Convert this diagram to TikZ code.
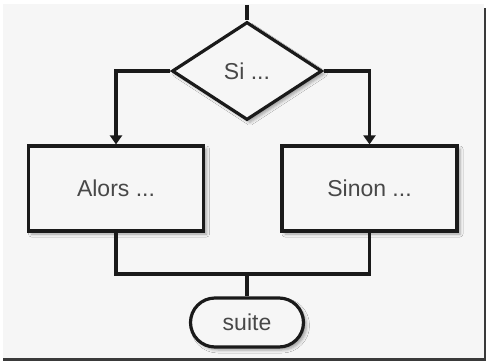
\documentclass[tikz,border=0pt]{standalone}
\usepackage{fontspec}
\setmainfont{Liberation Sans}
\usetikzlibrary{shapes.geometric,shapes.misc,shadows.blur,arrows.meta}
\definecolor{panel}{HTML}{F6F6F6}
\definecolor{ink}{HTML}{1A1A1A}
\definecolor{txt}{HTML}{484848}
\definecolor{frame}{HTML}{3A3A3A}
\tikzset{
  shade/.style={blur shadow={shadow xshift=3pt,shadow yshift=-3pt,shadow blur radius=3pt,shadow opacity=35}},
  flow/.style={draw=ink,line width=3.2pt,fill=panel,text=txt,font=\fontsize{23}{25}\selectfont,inner sep=0pt,shade},
  decision/.style={flow,diamond,minimum width=150pt,minimum height=98pt},
  stepbox/.style={flow,rectangle,minimum width=175pt,minimum height=85pt},
  term/.style={flow,rounded rectangle,minimum width=113pt,minimum height=49pt},
  wire/.style={draw=ink,line width=3.2pt},
  arr/.style={wire,-{Triangle[width=12pt,length=9pt]}}
}
\begin{document}
\begin{tikzpicture}[x=1pt,y=-1pt]
\useasboundingbox (0,0) rectangle (486,361);
\fill[white] (0,0) rectangle (486,361);
\fill[panel] (3,4) rectangle (484,358);
\fill[frame] (484,8) rectangle (486,361);
\fill[frame] (3,358) rectangle (486,361);
\node[decision] (si) at (247,71) {Si ...};
\node[stepbox] (alors) at (116,188.5) {Alors ...};
\node[stepbox] (sinon) at (369.5,188.5) {Sinon ...};
\node[term] (suite) at (247,322.5) {suite};
\coordinate (entry) at (247,5);
\coordinate (join) at (247,274);
\draw[wire] (entry) -- (si.north);
\draw[arr] (si.west) -| (alors.north);
\draw[arr] (si.east) -| (sinon.north);
\draw[wire] (alors.south) |- (join) -| (sinon.south);
\draw[wire] (join) -- (suite.north);
\end{tikzpicture}
\end{document}
